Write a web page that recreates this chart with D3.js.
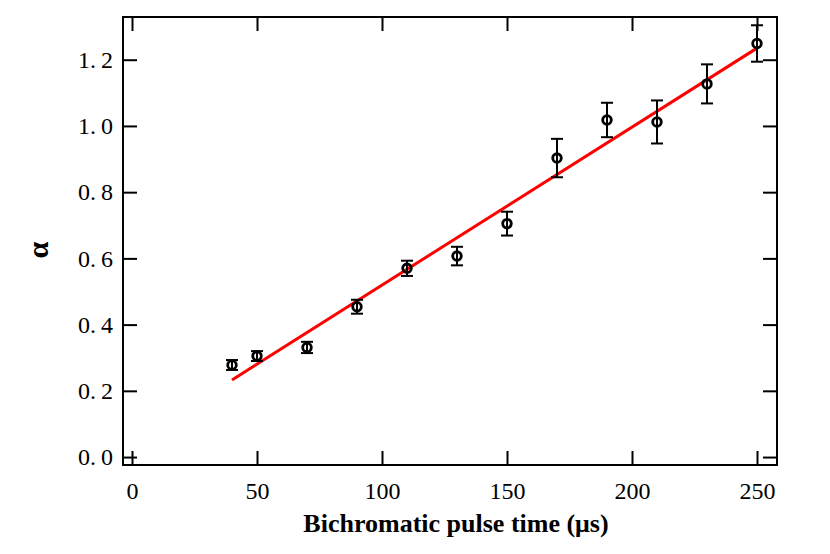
<!DOCTYPE html>
<html><head><meta charset="utf-8">
<script src="https://cdn.jsdelivr.net/npm/d3@7"></script>
<style>html,body{margin:0;padding:0;background:#fff;}</style>
</head><body>
<svg id="c" width="830" height="554"></svg>
<script>
const pulseTime = [40, 50, 70, 90, 110, 130, 150, 170, 190, 210, 230, 250];
const alphaVal  = [0.278, 0.305, 0.331, 0.454, 0.570, 0.607, 0.705, 0.903, 1.018, 1.012, 1.127, 1.249];
const alphaErr  = [0.015, 0.015, 0.017, 0.021, 0.023, 0.028, 0.036, 0.058, 0.052, 0.065, 0.059, 0.055];
const fitX = [40, 250];
const fitY = [0.233, 1.235];
const xTicks = [0, 50, 100, 150, 200, 250];
const yTicks = [0.0, 0.2, 0.4, 0.6, 0.8, 1.0, 1.2];

const svg = d3.select("#c");
const L = 123, R = 777, T = 17, B = 465;
const x = d3.scaleLinear().domain([-3.6, 258]).range([L, R]);
const y = d3.scaleLinear().domain([-0.024, 1.329]).range([B, T]);
const font = "'Liberation Serif', 'Times New Roman', serif";

// frame
svg.append("rect").attr("x", L).attr("y", T).attr("width", R - L).attr("height", B - T)
  .attr("fill", "none").attr("stroke", "#000").attr("stroke-width", 2);

const tl = 14;
const gB = svg.append("g").attr("transform", `translate(0,${B})`)
  .call(d3.axisBottom(x).tickValues(xTicks).tickSizeInner(-tl).tickSizeOuter(0));
const gT = svg.append("g").attr("transform", `translate(0,${T})`)
  .call(d3.axisTop(x).tickValues(xTicks).tickSizeInner(-tl).tickSizeOuter(0).tickFormat(""));
const gL = svg.append("g").attr("transform", `translate(${L},0)`)
  .call(d3.axisLeft(y).tickValues(yTicks).tickSizeInner(-tl).tickSizeOuter(0).tickPadding(10).tickFormat(d3.format(".1f")));
const gR = svg.append("g").attr("transform", `translate(${R},0)`)
  .call(d3.axisRight(y).tickValues(yTicks).tickSizeInner(-tl).tickSizeOuter(0).tickFormat(""));
[gB, gT, gL, gR].forEach(g => {
  g.select(".domain").remove();
  g.selectAll(".tick line").attr("stroke", "#000").attr("stroke-width", 2);
  g.selectAll("text").attr("font-family", font).attr("font-size", 24).attr("fill", "#000");
});
gB.selectAll(".tick text").attr("dy", null).attr("y", 34);
// y tick labels: wide gap after the decimal point
gL.selectAll(".tick text").each(function(d) {
  const s = d3.format(".1f")(d).split(".");
  const t = d3.select(this).text(null);
  t.append("tspan").text(s[0] + ".");
  t.append("tspan").attr("dx", 5).text(s[1]);
});

// fit line
svg.append("line")
  .attr("x1", x(fitX[0])).attr("y1", y(fitY[0]))
  .attr("x2", x(fitX[1])).attr("y2", y(fitY[1]))
  .attr("stroke", "#ff0000").attr("stroke-width", 3);

// data points
const pts = pulseTime.map((t, i) => ({t, v: alphaVal[i], e: alphaErr[i]}));
const g = svg.append("g");
g.selectAll("circle").data(pts).join("circle")
  .attr("cx", d => x(d.t)).attr("cy", d => y(d.v)).attr("r", 4.3)
  .attr("fill", "none").attr("stroke", "#000").attr("stroke-width", 2.8);
const eb = g.selectAll("g.eb").data(pts).join("g").attr("class", "eb")
  .attr("stroke", "#000").attr("stroke-width", 2);
eb.append("line").attr("x1", d => x(d.t)).attr("x2", d => x(d.t))
  .attr("y1", d => y(d.v - d.e)).attr("y2", d => y(d.v + d.e));
eb.append("line").attr("x1", d => x(d.t) - 6).attr("x2", d => x(d.t) + 6)
  .attr("y1", d => y(d.v + d.e)).attr("y2", d => y(d.v + d.e));
eb.append("line").attr("x1", d => x(d.t) - 6).attr("x2", d => x(d.t) + 6)
  .attr("y1", d => y(d.v - d.e)).attr("y2", d => y(d.v - d.e));

// axis labels
svg.append("text").attr("x", 456).attr("y", 532).attr("text-anchor", "middle")
  .attr("font-family", font).attr("font-weight", "bold").attr("font-size", 26)
  .text("Bichromatic pulse time (μs)");
svg.append("text").attr("transform", "translate(48,250) rotate(-90)").attr("text-anchor", "middle")
  .attr("font-family", font).attr("font-weight", "bold").attr("font-size", 30)
  .text("α");
</script>
</body></html>
